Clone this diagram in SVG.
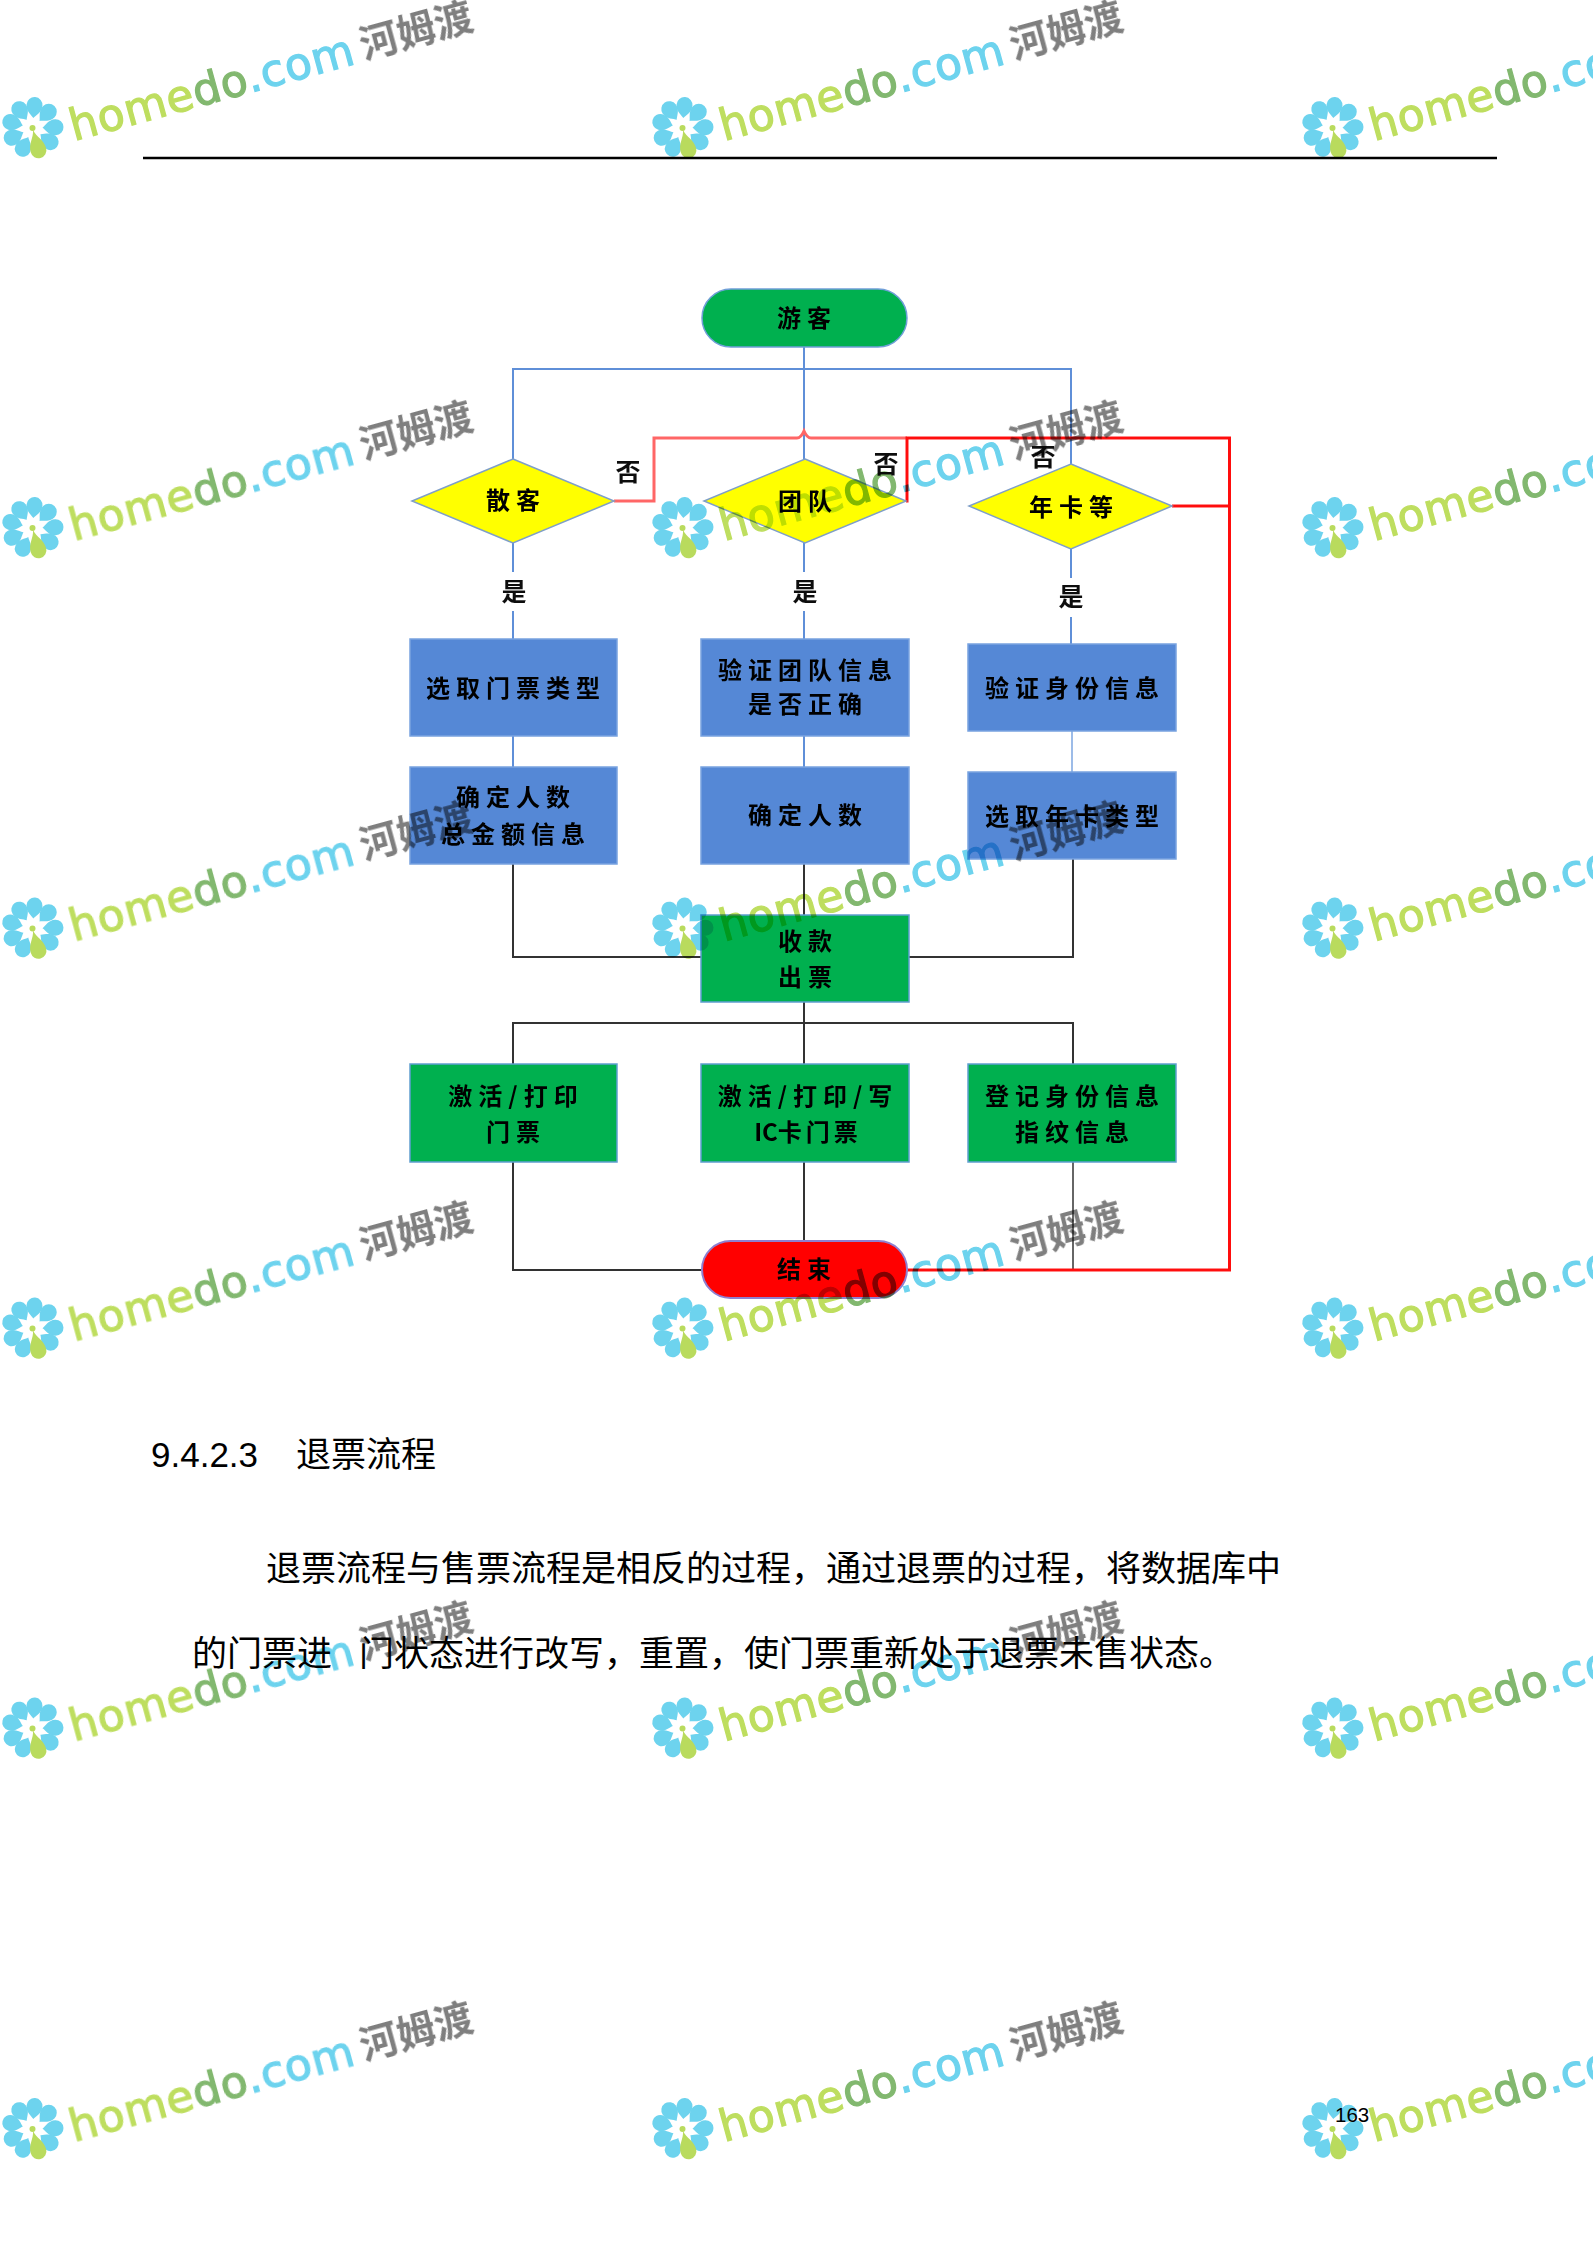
<svg xmlns="http://www.w3.org/2000/svg" xmlns:xlink="http://www.w3.org/1999/xlink" width="1593" height="2255" viewBox="0 0 1593 2255">
<style>
.n{font-family:"Noto Sans CJK SC","Liberation Serif",serif;font-size:24px;letter-spacing:6px;text-anchor:middle;font-weight:700;fill:#000}
.l{font-family:"Noto Sans CJK SC","Liberation Serif",serif;font-size:25px;text-anchor:middle;font-weight:700;fill:#111}
.blue{fill:#5588d6;stroke:#78a3e0;stroke-width:1.5}
.green{fill:#00b050;stroke:#5f9fd0;stroke-width:1.5}
.c{fill:none}
.cb{stroke:#5f8fd8;stroke-width:2}.ck{stroke:#333;stroke-width:2}.cp{stroke:#f66;stroke-width:3}.cr{stroke:#f11;stroke-width:3}
.d{font-family:"Noto Sans CJK SC","Liberation Sans",sans-serif;font-size:35px;fill:#000}
.p{fill:#6dd3ee}
.wmt{font-family:"DejaVu Sans",sans-serif;font-size:44px;stroke-width:1.2}
.wmc{font-family:"Noto Sans CJK SC",sans-serif;font-size:38.5px;font-weight:700;fill:#7f7f7f}
.wm{mix-blend-mode:multiply}
</style>
<defs>
<filter id="soft" x="-2%" y="-2%" width="104%" height="104%"><feGaussianBlur stdDeviation="0.6"/></filter>
<path id="pet" d="M0,-10C2,-13 8,-16 8,-23A8,8 0 1 0 -8,-23C-8,-16 -2,-13 0,-10Z"/>
<g id="mark">
<g transform="translate(32.5,128)">
<use xlink:href="#pet" class="p" transform="rotate(5)"/>
<use xlink:href="#pet" class="p" transform="rotate(45)"/>
<use xlink:href="#pet" class="p" transform="rotate(88)"/>
<use xlink:href="#pet" class="p" transform="rotate(128)"/>
<use xlink:href="#pet" class="p" transform="rotate(205)"/>
<use xlink:href="#pet" class="p" transform="rotate(245)"/>
<use xlink:href="#pet" class="p" transform="rotate(285)"/>
<use xlink:href="#pet" class="p" transform="rotate(325)"/>
<path d="M0,2C1.5,10 8,14 8,23A8,8 0 1 1 -8,23C-8,14 -1.5,10 0,2Z" fill="#b9db5d" transform="rotate(-15)"/>
<circle r="3" fill="#b9db5d"/>
</g>
<text class="wmt" transform="translate(74,141) rotate(-15.3)" textLength="293"><tspan fill="#bede5f" stroke="#bede5f">home</tspan><tspan fill="#82b86f" stroke="#82b86f">do</tspan><tspan fill="#6dd3ee" stroke="#6dd3ee">.com</tspan></text>
<text class="wmc" transform="translate(364,59) rotate(-15.3)">河姆渡</text>
</g>
</defs>
<rect width="1593" height="2255" fill="#fff"/>
<path id="header-rule" d="M143,158H1497" stroke="#000" stroke-width="2.6" fill="none"/>
<g filter="url(#soft)" transform="translate(1,0)">
<g id="connectors">
<path class="c cb" d="M803,347V459M512,459V369H1070V464M512,543V572M512,611V639M803,543V572M803,611V639M1070,549V578M1070,617V644M512,736V767M803,736V767"/>
<path class="c" stroke="#9dbce8" stroke-width="2" d="M1071,731V772"/>
<path class="c ck" d="M512,864V957H700M803,864V915M1072,859V957H908M803,1002V1064M512,1064V1023H1072V1064M512,1162V1270H700M803,1162V1241"/>
<path class="c" stroke="#666" stroke-width="2" d="M1072,1162V1270"/>
<path class="c cp" d="M613,501H653V438H796Q800,438 803,431Q806,438 810,438H906"/>
<path class="c cr" d="M905,501H906V438H1228.5V1270H906M1171,506H1228"/>
</g>
<g id="n-start"><rect x="701" y="289" width="205" height="58" rx="29" fill="#00b050" stroke="#6f9fd8" stroke-width="1.5"/><text class="n" x="806" y="327">游客</text></g>
<g id="n-d1"><path d="M512,459L613,501L512,543L411,501Z" fill="#ff0" stroke="#7f9fc8" stroke-width="1.5"/><text class="n" x="515" y="509">散客</text></g>
<g id="n-d2"><path d="M804,459L905,501L804,543L703,501Z" fill="#ff0" stroke="#7f9fc8" stroke-width="1.5"/><text class="n" x="807" y="510">团队</text></g>
<g id="n-d3"><path d="M1070,464L1171,506L1070,549L968,506Z" fill="#ff0" stroke="#7f9fc8" stroke-width="1.5"/><text class="n" x="1073" y="516">年卡等</text></g>
<g id="l-labels">
<text class="l" x="627" y="481">否</text><text class="l" x="885" y="473">否</text><text class="l" x="1042" y="466">否</text>
<text class="l" x="513" y="601">是</text><text class="l" x="804" y="601">是</text><text class="l" x="1070" y="606">是</text>
</g>
<g id="n-b1"><rect class="blue" x="409" y="639" width="207" height="97"/><text class="n" x="515" y="697">选取门票类型</text></g>
<g id="n-b2"><rect class="blue" x="700" y="639" width="208" height="97"/><text class="n" x="807" y="679">验证团队信息</text><text class="n" x="807" y="713">是否正确</text></g>
<g id="n-b3"><rect class="blue" x="967" y="644" width="208" height="87"/><text class="n" x="1074" y="697">验证身份信息</text></g>
<g id="n-b4"><rect class="blue" x="409" y="767" width="207" height="97"/><text class="n" x="515" y="806">确定人数</text><text class="n" x="515" y="843">总金额信息</text></g>
<g id="n-b5"><rect class="blue" x="700" y="767" width="208" height="97"/><text class="n" x="807" y="824">确定人数</text></g>
<g id="n-b6"><rect class="blue" x="967" y="772" width="208" height="87"/><text class="n" x="1074" y="825">选取年卡类型</text></g>
<g id="n-pay"><rect class="green" x="700" y="915" width="208" height="87"/><text class="n" x="807" y="950">收款</text><text class="n" x="807" y="986">出票</text></g>
<g id="n-g1"><rect class="green" x="409" y="1064" width="207" height="98"/><text class="n" x="515" y="1105">激活/打印</text><text class="n" x="515" y="1141">门票</text></g>
<g id="n-g2"><rect class="green" x="700" y="1064" width="208" height="98"/><text class="n" x="807" y="1105">激活/打印/写</text><text class="n" x="807" y="1141"><tspan letter-spacing="0">IC</tspan><tspan letter-spacing="4">卡门票</tspan></text></g>
<g id="n-g3"><rect class="green" x="967" y="1064" width="208" height="98"/><text class="n" x="1074" y="1105">登记身份信息</text><text class="n" x="1074" y="1141">指纹信息</text></g>
<g id="n-end"><rect x="701" y="1241" width="205" height="57" rx="28.5" fill="#f00" stroke="#8f7fd0" stroke-width="2"/><text class="n" x="806" y="1278">结束</text></g>
</g>
<g id="body-text">
<text class="d" x="151" y="1466.5" style="font-family:'Liberation Sans',sans-serif">9.4.2.3</text>
<text class="d" x="296" y="1466.5">退票流程</text>
<text class="d" x="266" y="1580.5">退票流程与售票流程是相反的过程&#xFF0C;通过退票的过程&#xFF0C;将数据库中</text>
<text class="d" x="192" y="1665.5">的门票进</text>
<text class="d" x="359" y="1665.5">门状态进行改写&#xFF0C;重置&#xFF0C;使门票重新处于退票未售状态。</text>
<text x="1335" y="2122" font-family="Liberation Sans,sans-serif" font-size="20.5" fill="#000">163</text>
</g>
<g id="watermarks" class="wm">
<use xlink:href="#mark"/><use xlink:href="#mark" x="650"/><use xlink:href="#mark" x="1300"/>
<use xlink:href="#mark" y="400"/><use xlink:href="#mark" x="650" y="400"/><use xlink:href="#mark" x="1300" y="400"/>
<use xlink:href="#mark" y="800.5"/><use xlink:href="#mark" x="650" y="800.5"/><use xlink:href="#mark" x="1300" y="800.5"/>
<use xlink:href="#mark" y="1200.5"/><use xlink:href="#mark" x="650" y="1200.5"/><use xlink:href="#mark" x="1300" y="1200.5"/>
<use xlink:href="#mark" y="1600.5"/><use xlink:href="#mark" x="650" y="1600.5"/><use xlink:href="#mark" x="1300" y="1600.5"/>
<use xlink:href="#mark" y="2001"/><use xlink:href="#mark" x="650" y="2001"/><use xlink:href="#mark" x="1300" y="2001"/>
</g>
</svg>
